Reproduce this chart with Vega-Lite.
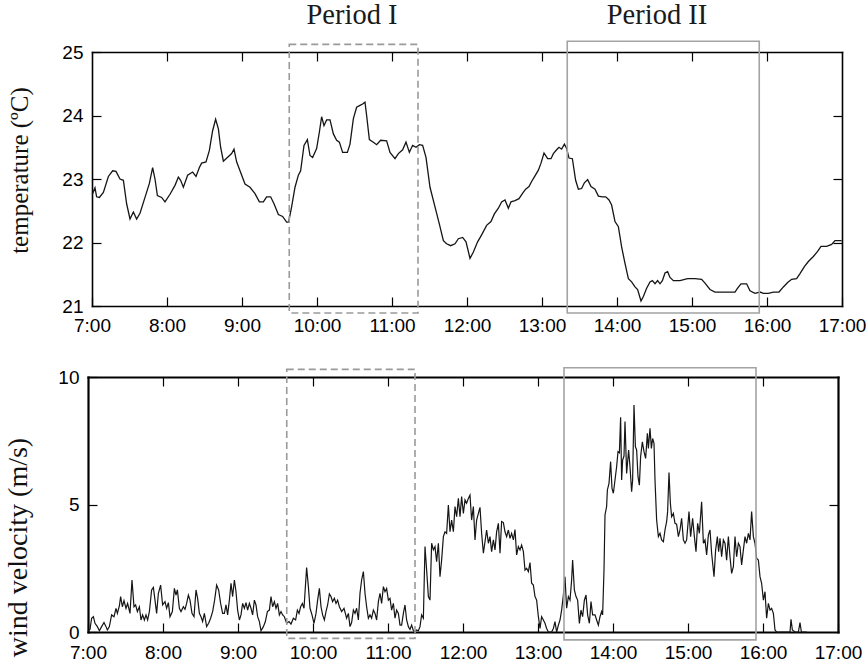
{
  "$schema": "https://vega.github.io/schema/vega-lite/v6.json",
  "background": "white",
  "padding": {"left": 4, "top": 1, "right": 0, "bottom": 0},
  "spacing": 71,
  "bounds": "flush",
  "config": {
    "view": {"stroke": null},
    "axis": {
      "grid": false,
      "domainColor": "black",
      "domainCap": "square",
      "tickColor": "black",
      "tickWidth": 1.2,
      "tickSize": -9,
      "labelColor": "black",
      "labelFont": "Liberation Sans",
      "labelFontSize": 19,
      "labelFlush": false,
      "labelOverlap": false,
      "titleFont": "Liberation Serif",
      "titleFontWeight": "normal",
      "titleColor": "#111111"
    }
  },
  "datasets": {
    "temp": [
      {"m":0,"T":22.78},{"m":0.5,"T":22.77},{"m":2.4,"T":22.86},{"m":3.7,"T":22.72},{"m":5.9,"T":22.71},{"m":9.1,"T":22.79},{"m":13.1,"T":23.04},{"m":16.5,"T":23.13},{"m":19.2,"T":23.12},{"m":22.4,"T":23.0},{"m":25.1,"T":22.98},{"m":27.7,"T":22.61},{"m":30.4,"T":22.37},{"m":33.1,"T":22.48},{"m":35.7,"T":22.37},{"m":38.4,"T":22.46},{"m":42.4,"T":22.71},{"m":45.9,"T":22.93},{"m":48.5,"T":23.18},{"m":50.4,"T":23.0},{"m":52.3,"T":22.74},{"m":55.7,"T":22.71},{"m":58.4,"T":22.64},{"m":62.4,"T":22.76},{"m":66.4,"T":22.9},{"m":69.1,"T":23.03},{"m":70.9,"T":22.98},{"m":73.1,"T":22.87},{"m":76.5,"T":23.06},{"m":80.5,"T":23.11},{"m":83.2,"T":23.04},{"m":85.9,"T":23.18},{"m":87.7,"T":23.25},{"m":91.2,"T":23.27},{"m":93.9,"T":23.45},{"m":96.5,"T":23.76},{"m":98.9,"T":23.94},{"m":101.1,"T":23.79},{"m":102.9,"T":23.5},{"m":105.1,"T":23.28},{"m":108.3,"T":23.34},{"m":111.7,"T":23.4},{"m":113.6,"T":23.47},{"m":115.7,"T":23.27},{"m":118.4,"T":23.13},{"m":122.4,"T":22.92},{"m":126.4,"T":22.87},{"m":130.4,"T":22.77},{"m":133.9,"T":22.64},{"m":137.1,"T":22.64},{"m":139.7,"T":22.72},{"m":142.9,"T":22.72},{"m":145.6,"T":22.61},{"m":149.1,"T":22.44},{"m":152.5,"T":22.41},{"m":155.7,"T":22.32},{"m":157.3,"T":22.32},{"m":159.7,"T":22.56},{"m":162.4,"T":22.87},{"m":165.1,"T":23.06},{"m":166.9,"T":23.13},{"m":169.6,"T":23.53},{"m":172.3,"T":23.62},{"m":174.4,"T":23.37},{"m":176.5,"T":23.34},{"m":179.7,"T":23.48},{"m":181.9,"T":23.74},{"m":183.7,"T":23.98},{"m":185.6,"T":23.84},{"m":187.7,"T":23.93},{"m":190.4,"T":23.93},{"m":193.1,"T":23.71},{"m":195.7,"T":23.61},{"m":197.9,"T":23.58},{"m":200.5,"T":23.42},{"m":204.3,"T":23.42},{"m":206.4,"T":23.55},{"m":209.1,"T":23.95},{"m":211.7,"T":24.13},{"m":214.4,"T":24.16},{"m":216.5,"T":24.18},{"m":218.4,"T":24.21},{"m":219.7,"T":24.0},{"m":221.9,"T":23.62},{"m":225.1,"T":23.58},{"m":227.7,"T":23.54},{"m":230.9,"T":23.61},{"m":235.7,"T":23.6},{"m":238.4,"T":23.42},{"m":242.4,"T":23.32},{"m":245.1,"T":23.4},{"m":248.5,"T":23.46},{"m":251.2,"T":23.58},{"m":253.9,"T":23.42},{"m":256.5,"T":23.53},{"m":259.2,"T":23.5},{"m":261.9,"T":23.54},{"m":264.5,"T":23.53},{"m":267.2,"T":23.34},{"m":270.4,"T":22.87},{"m":274.4,"T":22.56},{"m":277.9,"T":22.29},{"m":281.1,"T":22.03},{"m":283.7,"T":21.98},{"m":286.9,"T":21.95},{"m":290.4,"T":21.98},{"m":293.1,"T":22.06},{"m":296.5,"T":22.08},{"m":299.2,"T":22.01},{"m":302.4,"T":21.75},{"m":305.1,"T":21.85},{"m":308.5,"T":22.01},{"m":311.7,"T":22.12},{"m":315.7,"T":22.27},{"m":319.2,"T":22.33},{"m":321.9,"T":22.45},{"m":325.1,"T":22.54},{"m":327.7,"T":22.64},{"m":330.4,"T":22.67},{"m":333.1,"T":22.54},{"m":335.2,"T":22.64},{"m":338.4,"T":22.66},{"m":341.6,"T":22.69},{"m":344.3,"T":22.77},{"m":346.9,"T":22.84},{"m":349.6,"T":22.88},{"m":351.7,"T":22.96},{"m":354.4,"T":23.05},{"m":357.1,"T":23.14},{"m":359.2,"T":23.25},{"m":361.6,"T":23.41},{"m":364.5,"T":23.32},{"m":367.2,"T":23.32},{"m":369.1,"T":23.4},{"m":371.7,"T":23.46},{"m":373.6,"T":23.5},{"m":375.7,"T":23.47},{"m":377.9,"T":23.55},{"m":379.7,"T":23.48},{"m":381.6,"T":23.33},{"m":384.3,"T":23.32},{"m":386.9,"T":22.98},{"m":389.1,"T":22.84},{"m":391.7,"T":22.85},{"m":393.9,"T":22.94},{"m":396.5,"T":22.99},{"m":399.2,"T":22.88},{"m":402.4,"T":22.84},{"m":405.1,"T":22.73},{"m":408.3,"T":22.72},{"m":411.0,"T":22.72},{"m":413.6,"T":22.67},{"m":415.7,"T":22.59},{"m":418.4,"T":22.33},{"m":421.1,"T":22.25},{"m":423.7,"T":21.93},{"m":426.4,"T":21.67},{"m":429.1,"T":21.43},{"m":431.7,"T":21.38},{"m":434.4,"T":21.3},{"m":436.5,"T":21.26},{"m":439.2,"T":21.08},{"m":441.1,"T":21.15},{"m":443.7,"T":21.28},{"m":446.4,"T":21.38},{"m":448.3,"T":21.4},{"m":450.4,"T":21.35},{"m":452.5,"T":21.4},{"m":454.4,"T":21.35},{"m":456.3,"T":21.4},{"m":458.4,"T":21.52},{"m":460.5,"T":21.54},{"m":462.4,"T":21.45},{"m":465.1,"T":21.4},{"m":470.4,"T":21.4},{"m":476.5,"T":21.43},{"m":482.4,"T":21.43},{"m":487.7,"T":21.42},{"m":490.4,"T":21.36},{"m":494.4,"T":21.26},{"m":498.4,"T":21.22},{"m":506.4,"T":21.22},{"m":514.4,"T":21.22},{"m":516.5,"T":21.28},{"m":519.2,"T":21.35},{"m":523.7,"T":21.35},{"m":526.4,"T":21.24},{"m":530.4,"T":21.2},{"m":534.4,"T":21.22},{"m":537.1,"T":21.2},{"m":541.1,"T":21.2},{"m":545.1,"T":21.22},{"m":549.6,"T":21.22},{"m":553.1,"T":21.3},{"m":556.5,"T":21.37},{"m":559.7,"T":21.42},{"m":563.7,"T":21.43},{"m":566.4,"T":21.51},{"m":569.9,"T":21.62},{"m":573.1,"T":21.7},{"m":577.1,"T":21.78},{"m":580.5,"T":21.86},{"m":583.2,"T":21.94},{"m":587.7,"T":21.94},{"m":591.7,"T":21.97},{"m":594.4,"T":22.03},{"m":599.7,"T":22.03}
    ],
    "wind": [
      {"m":0,"V":0.05},{"m":1.6,"V":0.1},{"m":2.9,"V":0.54},{"m":4.3,"V":0.6},{"m":5.6,"V":0.34},{"m":7.5,"V":0.21},{"m":9.1,"V":0.05},{"m":10.9,"V":0.21},{"m":12.8,"V":0.37},{"m":14.4,"V":0.21},{"m":15.5,"V":0.08},{"m":17.1,"V":0.21},{"m":18.9,"V":0.67},{"m":20.8,"V":0.6},{"m":22.4,"V":0.93},{"m":23.5,"V":0.73},{"m":25.1,"V":1.02},{"m":26.1,"V":1.39},{"m":27.5,"V":0.99},{"m":28.8,"V":1.23},{"m":30.4,"V":0.93},{"m":31.7,"V":1.12},{"m":33.6,"V":0.73},{"m":35.2,"V":2.04},{"m":36.8,"V":0.99},{"m":38.1,"V":1.06},{"m":39.5,"V":0.8},{"m":41.1,"V":0.99},{"m":42.4,"V":0.47},{"m":43.7,"V":0.67},{"m":45.1,"V":0.47},{"m":46.4,"V":0.67},{"m":47.7,"V":0.47},{"m":49.1,"V":0.8},{"m":50.9,"V":1.65},{"m":52.3,"V":1.75},{"m":53.6,"V":1.25},{"m":54.9,"V":0.73},{"m":56.3,"V":1.52},{"m":58.1,"V":1.84},{"m":59.7,"V":1.06},{"m":61.6,"V":1.19},{"m":62.9,"V":0.93},{"m":64.3,"V":1.15},{"m":65.6,"V":0.6},{"m":67.5,"V":0.8},{"m":69.1,"V":1.71},{"m":70.4,"V":1.45},{"m":71.5,"V":1.65},{"m":73.1,"V":0.93},{"m":74.4,"V":0.8},{"m":76.3,"V":0.99},{"m":77.6,"V":0.89},{"m":78.9,"V":1.12},{"m":80.3,"V":1.45},{"m":81.6,"V":1.25},{"m":83.2,"V":0.73},{"m":84.8,"V":0.6},{"m":86.4,"V":1.65},{"m":87.7,"V":1.32},{"m":89.1,"V":0.73},{"m":90.4,"V":0.6},{"m":91.7,"V":0.41},{"m":93.1,"V":0.73},{"m":94.9,"V":0.21},{"m":96.5,"V":0.34},{"m":98.1,"V":0.54},{"m":99.7,"V":0.8},{"m":101.3,"V":1.25},{"m":102.9,"V":1.84},{"m":104.5,"V":1.65},{"m":106.1,"V":1.12},{"m":107.7,"V":0.73},{"m":109.1,"V":0.73},{"m":110.4,"V":1.06},{"m":111.7,"V":0.67},{"m":113.1,"V":1.25},{"m":114.4,"V":1.91},{"m":115.7,"V":1.39},{"m":117.1,"V":2.04},{"m":118.4,"V":1.58},{"m":119.7,"V":0.86},{"m":121.1,"V":0.47},{"m":122.4,"V":0.67},{"m":123.7,"V":1.12},{"m":125.1,"V":0.93},{"m":126.4,"V":1.15},{"m":127.7,"V":0.86},{"m":129.1,"V":1.12},{"m":130.4,"V":0.93},{"m":131.7,"V":0.67},{"m":133.1,"V":1.25},{"m":134.4,"V":1.06},{"m":135.7,"V":0.6},{"m":137.1,"V":0.41},{"m":138.4,"V":0.05},{"m":140.3,"V":0.21},{"m":141.9,"V":0.41},{"m":143.5,"V":0.8},{"m":145.1,"V":0.86},{"m":146.4,"V":1.39},{"m":147.7,"V":0.99},{"m":149.1,"V":1.19},{"m":150.4,"V":0.93},{"m":151.7,"V":1.12},{"m":153.1,"V":0.67},{"m":154.4,"V":0.8},{"m":155.7,"V":0.67},{"m":157.1,"V":0.6},{"m":158.9,"V":0.34},{"m":160.8,"V":0.41},{"m":162.4,"V":0.31},{"m":164.3,"V":0.54},{"m":166.1,"V":0.47},{"m":167.5,"V":0.86},{"m":168.8,"V":0.73},{"m":170.1,"V":0.99},{"m":171.5,"V":1.12},{"m":172.8,"V":0.93},{"m":174.9,"V":2.53},{"m":176.3,"V":1.78},{"m":177.6,"V":0.93},{"m":179.2,"V":0.67},{"m":180.8,"V":0.34},{"m":182.4,"V":0.73},{"m":183.7,"V":1.25},{"m":185.1,"V":1.71},{"m":186.4,"V":0.99},{"m":187.7,"V":0.67},{"m":189.1,"V":0.47},{"m":190.4,"V":0.8},{"m":191.7,"V":1.06},{"m":193.1,"V":1.49},{"m":194.4,"V":1.39},{"m":195.7,"V":1.19},{"m":197.1,"V":1.32},{"m":198.4,"V":1.12},{"m":199.7,"V":1.25},{"m":201.1,"V":0.99},{"m":202.9,"V":0.8},{"m":204.8,"V":0.93},{"m":206.9,"V":0.54},{"m":208.3,"V":0.73},{"m":209.6,"V":0.21},{"m":210.9,"V":0.37},{"m":212.3,"V":0.86},{"m":213.6,"V":0.73},{"m":214.9,"V":0.93},{"m":216.3,"V":0.47},{"m":217.6,"V":1.52},{"m":218.9,"V":2.04},{"m":220.3,"V":2.37},{"m":221.6,"V":1.52},{"m":222.9,"V":0.99},{"m":224.3,"V":0.54},{"m":225.6,"V":0.67},{"m":226.9,"V":0.54},{"m":228.3,"V":0.86},{"m":229.6,"V":0.73},{"m":230.9,"V":0.47},{"m":232.3,"V":1.19},{"m":233.6,"V":1.52},{"m":234.9,"V":1.12},{"m":236.3,"V":1.78},{"m":237.6,"V":1.58},{"m":238.9,"V":1.71},{"m":240.3,"V":1.25},{"m":241.6,"V":1.32},{"m":242.9,"V":0.86},{"m":244.3,"V":1.12},{"m":245.6,"V":0.54},{"m":246.9,"V":0.86},{"m":248.3,"V":0.73},{"m":249.6,"V":0.27},{"m":250.9,"V":0.27},{"m":252.3,"V":0.73},{"m":253.6,"V":1.06},{"m":254.9,"V":0.47},{"m":256.3,"V":0.21},{"m":257.6,"V":0.1},{"m":258.9,"V":0.27},{"m":260.3,"V":0.05},{"m":261.6,"V":0.0},{"m":262.9,"V":0.08},{"m":264.3,"V":0.05},{"m":265.6,"V":0.21},{"m":266.9,"V":0.67},{"m":268.3,"V":0.54},{"m":269.6,"V":3.35},{"m":270.9,"V":2.43},{"m":272.3,"V":1.39},{"m":273.6,"V":1.25},{"m":274.9,"V":3.48},{"m":276.3,"V":3.22},{"m":277.6,"V":3.35},{"m":278.9,"V":2.76},{"m":280.3,"V":3.48},{"m":281.6,"V":2.17},{"m":282.9,"V":2.82},{"m":284.3,"V":3.74},{"m":285.6,"V":3.93},{"m":286.9,"V":3.87},{"m":288.3,"V":4.98},{"m":289.6,"V":3.93},{"m":290.9,"V":4.39},{"m":292.3,"V":3.93},{"m":293.6,"V":4.92},{"m":294.9,"V":4.52},{"m":296.3,"V":5.24},{"m":297.6,"V":4.52},{"m":298.9,"V":5.31},{"m":300.3,"V":4.65},{"m":301.6,"V":5.18},{"m":302.9,"V":5.05},{"m":304.3,"V":5.24},{"m":305.6,"V":5.37},{"m":306.9,"V":4.39},{"m":308.3,"V":4.92},{"m":309.6,"V":3.61},{"m":310.9,"V":4.39},{"m":312.3,"V":4.65},{"m":313.6,"V":4.89},{"m":314.9,"V":3.87},{"m":316.3,"V":3.09},{"m":317.6,"V":3.54},{"m":318.9,"V":4.0},{"m":320.3,"V":3.48},{"m":321.6,"V":3.74},{"m":322.9,"V":3.15},{"m":324.3,"V":3.61},{"m":325.6,"V":3.22},{"m":326.9,"V":3.93},{"m":328.3,"V":4.26},{"m":329.6,"V":3.09},{"m":330.9,"V":4.33},{"m":332.3,"V":4.29},{"m":333.6,"V":3.93},{"m":334.9,"V":3.74},{"m":336.3,"V":4.0},{"m":337.6,"V":3.67},{"m":338.9,"V":3.87},{"m":340.3,"V":3.61},{"m":341.6,"V":4.02},{"m":342.9,"V":3.02},{"m":344.3,"V":3.35},{"m":345.6,"V":3.22},{"m":346.9,"V":3.41},{"m":348.3,"V":3.15},{"m":349.6,"V":2.43},{"m":350.9,"V":2.5},{"m":352.3,"V":2.37},{"m":353.6,"V":2.72},{"m":354.9,"V":1.91},{"m":356.3,"V":1.84},{"m":357.6,"V":1.39},{"m":358.9,"V":1.25},{"m":360.3,"V":0.6},{"m":361.6,"V":0.14},{"m":362.9,"V":0.6},{"m":364.3,"V":0.47},{"m":365.6,"V":0.34},{"m":366.9,"V":0.14},{"m":368.3,"V":0},{"m":369.6,"V":0},{"m":370.9,"V":0},{"m":372.3,"V":0.14},{"m":373.6,"V":0.41},{"m":374.9,"V":0},{"m":376.3,"V":0.27},{"m":377.6,"V":0.47},{"m":378.9,"V":0.86},{"m":380.3,"V":1.45},{"m":381.6,"V":2.17},{"m":382.9,"V":0.93},{"m":384.3,"V":1.39},{"m":385.6,"V":1.25},{"m":386.9,"V":2.04},{"m":387.7,"V":2.82},{"m":389.1,"V":1.65},{"m":390.4,"V":1.39},{"m":391.7,"V":1.25},{"m":393.1,"V":0.34},{"m":394.4,"V":0.86},{"m":395.7,"V":0.6},{"m":397.1,"V":1.25},{"m":398.4,"V":1.45},{"m":399.7,"V":0.67},{"m":401.1,"V":0.34},{"m":402.4,"V":1.19},{"m":403.7,"V":0.67},{"m":405.6,"V":0.67},{"m":406.9,"V":0.47},{"m":408.3,"V":0.27},{"m":409.6,"V":0.6},{"m":410.9,"V":0.8},{"m":411.7,"V":0.67},{"m":412.8,"V":2.43},{"m":413.6,"V":4.59},{"m":414.9,"V":4.92},{"m":415.5,"V":5.57},{"m":416.8,"V":5.83},{"m":418.1,"V":6.68},{"m":419.2,"V":5.63},{"m":420.3,"V":5.44},{"m":421.6,"V":5.96},{"m":422.9,"V":6.48},{"m":424.0,"V":7.07},{"m":425.1,"V":7.03},{"m":426.1,"V":8.42},{"m":426.9,"V":5.96},{"m":427.7,"V":6.74},{"m":428.8,"V":6.9},{"m":429.6,"V":8.25},{"m":430.9,"V":6.22},{"m":432.5,"V":7.14},{"m":433.6,"V":6.48},{"m":434.9,"V":5.5},{"m":435.7,"V":5.96},{"m":436.8,"V":8.9},{"m":437.9,"V":7.27},{"m":438.9,"V":7.14},{"m":440.0,"V":6.09},{"m":441.1,"V":5.76},{"m":442.1,"V":6.88},{"m":443.5,"V":7.46},{"m":444.8,"V":7.07},{"m":446.1,"V":6.81},{"m":447.5,"V":7.79},{"m":448.3,"V":7.2},{"m":449.6,"V":7.99},{"m":450.7,"V":7.2},{"m":451.7,"V":7.59},{"m":452.8,"V":7.4},{"m":453.6,"V":5.96},{"m":454.9,"V":4.39},{"m":456.3,"V":3.74},{"m":457.6,"V":3.87},{"m":458.9,"V":3.61},{"m":460.3,"V":3.54},{"m":461.6,"V":4.0},{"m":462.9,"V":4.33},{"m":463.7,"V":4.72},{"m":464.8,"V":6.25},{"m":465.9,"V":5.05},{"m":466.9,"V":4.52},{"m":468.3,"V":4.65},{"m":469.6,"V":4.26},{"m":470.9,"V":4.23},{"m":472.3,"V":3.74},{"m":473.6,"V":4.0},{"m":474.9,"V":4.46},{"m":476.3,"V":3.61},{"m":477.6,"V":3.48},{"m":478.9,"V":3.61},{"m":480.8,"V":4.72},{"m":482.1,"V":3.74},{"m":483.7,"V":4.46},{"m":485.1,"V":3.74},{"m":486.4,"V":3.15},{"m":487.7,"V":4.26},{"m":489.1,"V":3.87},{"m":490.9,"V":5.11},{"m":492.3,"V":3.48},{"m":493.6,"V":3.61},{"m":494.9,"V":3.02},{"m":496.3,"V":3.8},{"m":497.6,"V":4.0},{"m":498.9,"V":3.09},{"m":500.8,"V":2.17},{"m":502.1,"V":3.22},{"m":503.5,"V":3.74},{"m":504.5,"V":3.15},{"m":505.6,"V":3.67},{"m":506.9,"V":2.95},{"m":508.3,"V":3.61},{"m":509.6,"V":3.48},{"m":510.9,"V":2.82},{"m":512.3,"V":3.74},{"m":513.6,"V":2.95},{"m":514.9,"V":2.3},{"m":516.3,"V":2.56},{"m":517.6,"V":3.74},{"m":518.9,"V":2.95},{"m":520.3,"V":3.48},{"m":521.6,"V":3.35},{"m":522.9,"V":2.63},{"m":524.3,"V":3.22},{"m":525.6,"V":3.74},{"m":526.9,"V":3.48},{"m":528.3,"V":3.87},{"m":529.6,"V":3.61},{"m":530.9,"V":4.72},{"m":532.3,"V":3.74},{"m":533.6,"V":3.48},{"m":534.9,"V":2.89},{"m":536.3,"V":2.82},{"m":537.6,"V":2.17},{"m":538.9,"V":1.91},{"m":540.3,"V":1.25},{"m":541.6,"V":1.58},{"m":542.9,"V":0.54},{"m":544.3,"V":1.12},{"m":545.6,"V":0.86},{"m":546.9,"V":0.93},{"m":548.3,"V":0.73},{"m":549.6,"V":0.08},{"m":550.9,"V":0},{"m":561.6,"V":0},{"m":562.4,"V":0.5},{"m":563.5,"V":0.08},{"m":565.6,"V":0},{"m":568.3,"V":0},{"m":569.6,"V":0.37},{"m":570.7,"V":0},{"m":575.0,"V":0}
    ],
    "boxTop": [
      {"p":"Period I","x1":157.8,"x2":260.8,"y1":20.89,"y2":25.12},
      {"p":"Period II","x1":380.2,"x2":533.8,"y1":20.89,"y2":25.17}
    ],
    "boxBot": [
      {"p":"Period I","x1":159.0,"x2":261.6,"y1":-0.25,"y2":10.3},
      {"p":"Period II","x1":380.8,"x2":534.4,"y1":-0.31,"y2":10.36}
    ],
    "labels": [
      {"label":"Period I","m":208,"T":25.44},
      {"label":"Period II","m":452,"T":25.44}
    ]
  },
  "vconcat": [
    {
      "width": 750,
      "height": 254,
      "resolve": {"axis": {"x": "independent", "y": "independent"}},
      "layer": [
        {
          "data": {"name": "temp"},
          "mark": {"type": "line", "color": "#151515", "strokeWidth": 1.3},
          "encoding": {
            "x": {"field": "m", "type": "quantitative",
              "scale": {"domain": [0, 600], "nice": false, "zero": false},
              "axis": {"orient": "bottom", "title": null, "values": [0,60,120,180,240,300,360,420,480,540,600],
                "labelExpr": "(datum.value/60 + 7) + ':00'", "labelPadding": 19.5, "domainWidth": 1.6}},
            "y": {"field": "T", "type": "quantitative",
              "scale": {"domain": [21, 25], "nice": false, "zero": false},
              "axis": {"orient": "left", "values": [21,22,23,24,25], "labelPadding": 18, "domainWidth": 1.6,
                "title": "temperature (ºC)", "titleFontSize": 25, "titleAngle": -90, "titleAlign": "center",
                "titleBaseline": "alphabetic", "titleX": -64.5, "titleY": 118}}
          }
        },
        {
          "data": {"name": "boxTop"},
          "transform": [{"filter": "datum.p == 'Period I'"}],
          "mark": {"type": "rect", "fill": "transparent", "stroke": "#9a9a9a", "strokeWidth": 1.6, "strokeDash": [7, 4]},
          "encoding": {
            "x": {"field": "x1", "type": "quantitative",
              "scale": {"domain": [0, 600], "nice": false, "zero": false},
              "axis": {"orient": "top", "title": null, "labels": false, "values": [60,120,180,240,300,360,420,480,540], "domainWidth": 1.6}},
            "x2": {"field": "x2"},
            "y": {"field": "y1", "type": "quantitative",
              "scale": {"domain": [21, 25], "nice": false, "zero": false},
              "axis": {"orient": "right", "title": null, "labels": false, "values": [22,23,24], "domainWidth": 1.6}},
            "y2": {"field": "y2"}
          }
        },
        {
          "data": {"name": "boxTop"},
          "transform": [{"filter": "datum.p == 'Period II'"}],
          "mark": {"type": "rect", "fill": "transparent", "stroke": "#a3a3a3", "strokeWidth": 1.6},
          "encoding": {
            "x": {"field": "x1", "type": "quantitative", "scale": {"domain": [0, 600], "nice": false, "zero": false}, "axis": null},
            "x2": {"field": "x2"},
            "y": {"field": "y1", "type": "quantitative", "scale": {"domain": [21, 25], "nice": false, "zero": false}, "axis": null},
            "y2": {"field": "y2"}
          }
        },
        {
          "data": {"name": "labels"},
          "mark": {"type": "text", "font": "Liberation Serif", "fontSize": 28.5, "color": "#1a1a1a", "align": "center", "baseline": "alphabetic"},
          "encoding": {
            "x": {"field": "m", "type": "quantitative", "scale": {"domain": [0, 600], "nice": false, "zero": false}, "axis": null},
            "y": {"field": "T", "type": "quantitative", "scale": {"domain": [21, 25], "nice": false, "zero": false}, "axis": null},
            "text": {"field": "label"}
          }
        }
      ]
    },
    {
      "width": 750,
      "height": 255,
      "resolve": {"axis": {"x": "independent", "y": "independent"}},
      "layer": [
        {
          "data": {"name": "wind"},
          "mark": {"type": "line", "color": "#151515", "strokeWidth": 1.2},
          "encoding": {
            "x": {"field": "m", "type": "quantitative",
              "scale": {"domain": [0, 600], "range": [-4, 746], "nice": false, "zero": false},
              "axis": {"orient": "bottom", "title": null, "values": [0,60,120,180,240,300,360,420,480,540,600],
                "labelExpr": "(datum.value/60 + 7) + ':00'", "labelPadding": 20, "domainWidth": 2.2}},
            "y": {"field": "V", "type": "quantitative",
              "scale": {"domain": [0, 10], "nice": false, "zero": false},
              "axis": {"orient": "left", "offset": 4, "values": [0,5,10], "labelPadding": 18, "domainWidth": 2.2,
                "title": "wind velocity (m/s)", "titleFontSize": 28, "titleAngle": -90, "titleAlign": "center",
                "titleBaseline": "alphabetic", "titleX": -62, "titleY": 170}}
          }
        },
        {
          "data": {"name": "boxBot"},
          "transform": [{"filter": "datum.p == 'Period I'"}],
          "mark": {"type": "rect", "fill": "transparent", "stroke": "#9a9a9a", "strokeWidth": 1.6, "strokeDash": [7, 4]},
          "encoding": {
            "x": {"field": "x1", "type": "quantitative",
              "scale": {"domain": [0, 600], "range": [-4, 746], "nice": false, "zero": false},
              "axis": {"orient": "top", "title": null, "labels": false, "values": [60,120,180,240,300,360,420,480,540], "domainWidth": 2.2}},
            "x2": {"field": "x2"},
            "y": {"field": "y1", "type": "quantitative",
              "scale": {"domain": [0, 10], "nice": false, "zero": false},
              "axis": {"orient": "right", "offset": -4, "title": null, "labels": false, "values": [5], "domainWidth": 2.2}},
            "y2": {"field": "y2"}
          }
        },
        {
          "data": {"name": "boxBot"},
          "transform": [{"filter": "datum.p == 'Period II'"}],
          "mark": {"type": "rect", "fill": "transparent", "stroke": "#a3a3a3", "strokeWidth": 1.6},
          "encoding": {
            "x": {"field": "x1", "type": "quantitative", "scale": {"domain": [0, 600], "range": [-4, 746], "nice": false, "zero": false}, "axis": null},
            "x2": {"field": "x2"},
            "y": {"field": "y1", "type": "quantitative", "scale": {"domain": [0, 10], "nice": false, "zero": false}, "axis": null},
            "y2": {"field": "y2"}
          }
        }
      ]
    }
  ]
}
